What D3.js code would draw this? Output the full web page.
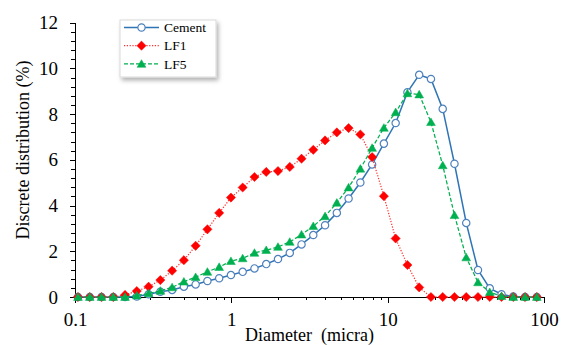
<!DOCTYPE html>
<html>
<head>
<meta charset="utf-8">
<script src="https://cdn.jsdelivr.net/npm/d3@7"></script>
<style>
  body { margin: 0; background: #fff; }
  svg { display: block; font-family: "Liberation Serif", "Times New Roman", serif; }
  .axis path, .axis line { stroke: #000; stroke-width: 1; shape-rendering: crispEdges; }
  .axis text { font-family: "Liberation Serif", "Times New Roman", serif; font-size: 19px; fill: #000; }
  .legend text { font-size: 13.5px; fill: #000; }
</style>
</head>
<body>
<div id="chart"></div>
<script>

/*
 * Particle size distributions.
 */

// Diameters (micra), one per bin.
var diameters = [
  0.1045, 0.1243, 0.1478, 0.1758, 0.2090, 0.2485, 0.2956, 0.3515,
  0.4180, 0.4971, 0.5911, 0.7030, 0.8360, 0.9942, 1.182, 1.406,
  1.672, 1.988, 2.365, 2.812, 3.344, 3.977, 4.729, 5.624,
  6.688, 7.953, 9.458, 11.25, 13.38, 15.91, 18.92, 22.50,
  26.75, 31.81, 37.83, 44.99, 53.50, 63.62, 75.66, 89.98
];

// Discrete distribution (%).
var cement = [
  0, 0, 0, 0, 0, 0.02, 0.12, 0.23,
  0.31, 0.45, 0.55, 0.70, 0.82, 0.96, 1.10, 1.25,
  1.44, 1.66, 1.93, 2.30, 2.71, 3.14, 3.68, 4.31,
  5.01, 5.80, 6.71, 7.61, 8.96, 9.72, 9.54, 8.23,
  5.83, 3.24, 1.18, 0.38, 0.12, 0.02, 0, 0
];

var lf1 = [
  0, 0, 0, 0, 0.09, 0.26, 0.45, 0.74,
  1.15, 1.61, 2.24, 2.96, 3.68, 4.35, 4.79, 5.25,
  5.47, 5.51, 5.69, 6.05, 6.44, 6.85, 7.20, 7.39,
  7.11, 6.12, 4.41, 2.56, 1.40, 0.42, 0, 0,
  0, 0, 0, 0, 0, 0, 0, 0
];

var lf5 = [
  0, 0, 0, 0, 0, 0.06, 0.16, 0.27,
  0.42, 0.67, 0.87, 1.10, 1.31, 1.57, 1.69, 1.93,
  2.05, 2.19, 2.41, 2.73, 3.10, 3.53, 4.12, 4.79,
  5.61, 6.52, 7.40, 8.08, 8.91, 8.86, 7.65, 5.76,
  3.58, 1.73, 0.64, 0.21, 0.04, 0, 0, 0
];

// Tick labels.
var xTicks = [0.1, 1, 10, 100];
var yTicks = [0, 2, 4, 6, 8, 10, 12];

// Series.
var seriesNames = ['Cement', 'LF1', 'LF5'];
var seriesValues = [cement, lf1, lf5];

// Styles.
var styles = {
  Cement: { line: '#2f75b5', dash: null, marker: 'circle', fill: '#fff', stroke: '#4f81bd' },
  LF1: { line: '#ff3030', dash: '1.2,1.6', marker: 'diamond', fill: '#ff0000', stroke: '#ff0000' },
  LF5: { line: '#00b050', dash: '4,2', marker: 'triangle', fill: '#00b050', stroke: '#00b050' }
};

var width = 562;
var height = 345;
var plotLeft = 75, plotRight = 544, plotTop = 22.7, plotBottom = 297;

var svg = d3.select('#chart').append('svg')
  .attr('width', width)
  .attr('height', height);

// Scales.
var x = d3.scaleLog().domain([0.1, 100]).range([plotLeft, plotRight]);
var y = d3.scaleLinear().domain([0, 12]).range([plotBottom, plotTop]);

// Minor ticks.
var xMinor = [];
[0.1, 1, 10].forEach(function(d) {
  for (var i = 2; i < 10; i++) xMinor.push(d * i);
});
var yMinor = d3.range(0, 12.001, 0.4);

// Y axis minor ticks.
svg.append('g')
  .attr('class', 'axis')
  .attr('transform', 'translate(' + plotLeft + ',0)')
  .call(d3.axisLeft(y).tickValues(yMinor).tickSize(4).tickFormat(''))
  .select('.domain').remove();

// Y axis.
svg.append('g')
  .attr('class', 'axis')
  .attr('transform', 'translate(' + plotLeft + ',0)')
  .call(d3.axisLeft(y).tickValues(yTicks).tickSizeOuter(0).tickSize(5).tickPadding(12)
    .tickFormat(d3.format('d')));

// X axis minor ticks.
svg.append('g')
  .attr('class', 'axis')
  .attr('transform', 'translate(0,' + plotBottom + ')')
  .call(d3.axisBottom(x).tickValues(xMinor).tickSize(3).tickFormat(''))
  .select('.domain').remove();

// X axis.
svg.append('g')
  .attr('class', 'axis')
  .attr('transform', 'translate(0,' + plotBottom + ')')
  .call(d3.axisBottom(x).tickValues(xTicks).tickSizeOuter(0).tickSize(6).tickPadding(10)
    .tickFormat(function(d) { return String(d); }));

// Axis titles.
svg.append('text')
  .attr('x', (plotLeft + plotRight) / 2)
  .attr('y', 341)
  .attr('text-anchor', 'middle')
  .attr('xml:space', 'preserve')
  .style('font-size', '18px')
  .text('Diameter  (micra)');

svg.append('text')
  .attr('transform', 'translate(29,150) rotate(-90)')
  .attr('text-anchor', 'middle')
  .style('font-size', '18px')
  .text('Discrete distribution (%)');

/*
 * Marker path for a series.
 */
function markerPath(type) {
  if (type === 'circle') return d3.symbol().type(d3.symbolCircle).size(42)();
  if (type === 'diamond') return 'M0,-4.6L4.6,0L0,4.6L-4.6,0Z';
  return 'M0,-4.2L4.4,3.4L-4.4,3.4Z';
}

// Lines and markers.
var line = d3.line()
  .x(function(d) { return x(d[0]); })
  .y(function(d) { return y(d[1]); });

seriesNames.forEach(function(name, i) {

  var s = styles[name];
  var points = diameters.map(function(d, j) { return [d, seriesValues[i][j]]; });
  var g = svg.append('g');

  g.append('path')
    .datum(points)
    .attr('d', line)
    .attr('fill', 'none')
    .attr('stroke', s.line)
    .attr('stroke-width', name === 'Cement' ? 1.5 : 1.25)
    .attr('stroke-dasharray', s.dash);

  g.selectAll('.marker')
    .data(points)
    .enter().append('path')
    .attr('class', 'marker')
    .attr('transform', function(d) { return 'translate(' + x(d[0]) + ',' + y(d[1]) + ')'; })
    .attr('d', markerPath(s.marker))
    .attr('fill', s.fill)
    .attr('stroke', s.stroke)
    .attr('stroke-width', name === 'Cement' ? 1.2 : 0.5);

});

// Legend.
var legend = svg.append('g').attr('class', 'legend');

var defs = svg.append('defs');
var filter = defs.append('filter').attr('id', 'shadow')
  .attr('x', '-10%').attr('y', '-10%').attr('width', '130%').attr('height', '140%');
filter.append('feDropShadow')
  .attr('dx', 2).attr('dy', 3).attr('stdDeviation', 2)
  .attr('flood-color', '#000').attr('flood-opacity', 0.3);

legend.append('rect')
  .attr('x', 120).attr('y', 20)
  .attr('width', 96).attr('height', 57)
  .attr('fill', '#fff')
  .attr('stroke', '#d9d9d9')
  .attr('filter', 'url(#shadow)');

var rows = legend.selectAll('.row')
  .data(seriesNames)
  .enter().append('g')
  .attr('class', 'row')
  .attr('transform', function(d, i) { return 'translate(0,' + (27.5 + i * 18.2) + ')'; });

rows.append('line')
  .attr('x1', 124).attr('x2', 159)
  .attr('stroke', function(d) { return styles[d].line; })
  .attr('stroke-width', function(d) { return d === 'Cement' ? 1.5 : 1.25; })
  .attr('stroke-dasharray', function(d) { return styles[d].dash; });

rows.append('path')
  .attr('transform', 'translate(141.5,0)')
  .attr('d', function(d) { return markerPath(styles[d].marker); })
  .attr('fill', function(d) { return styles[d].fill; })
  .attr('stroke', function(d) { return styles[d].stroke; })
  .attr('stroke-width', function(d) { return d === 'Cement' ? 1.2 : 0.5; });

rows.append('text')
  .attr('x', 164)
  .attr('dy', '0.35em')
  .text(function(d) { return d; });

</script>
</body>
</html>
